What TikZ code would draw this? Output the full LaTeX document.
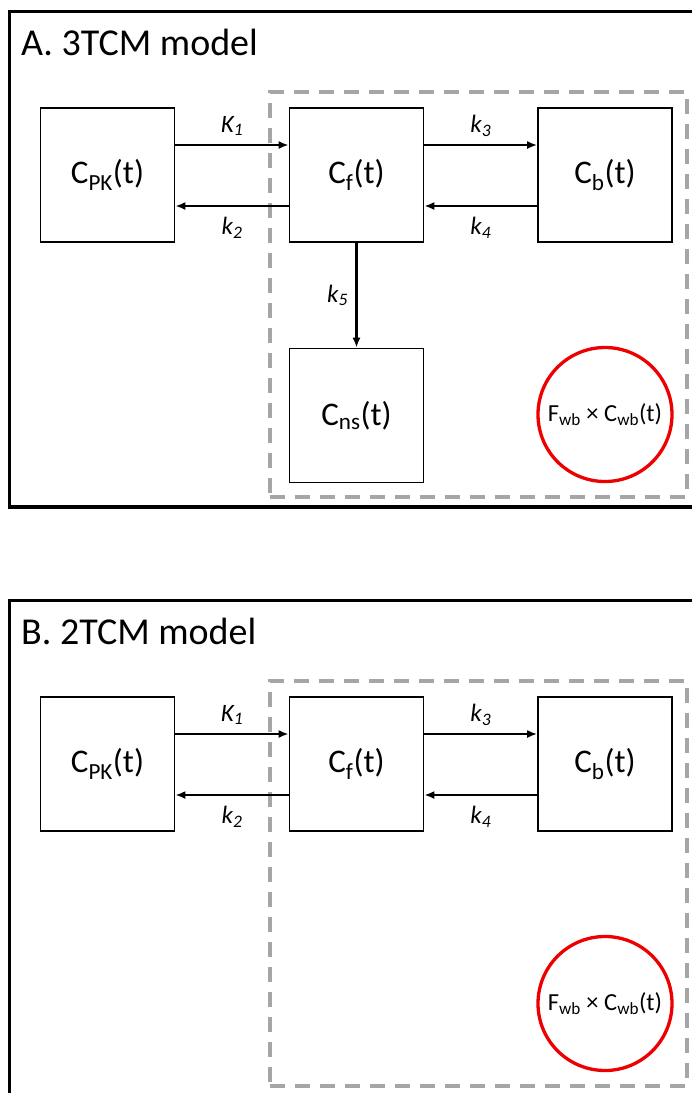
\documentclass[tikz,border=0pt]{standalone}
\usepackage{fontspec}
\setmainfont{Carlito}
\usetikzlibrary{arrows.meta}
\definecolor{dashgray}{HTML}{A6A6A6}
\definecolor{ringred}{HTML}{EE0000}
\tikzset{
  compbox/.style={draw=black, line width=1.7bp, minimum width=134bp, minimum height=134bp, inner sep=0pt, font=\fontsize{33bp}{39bp}\selectfont},
  ratearrow/.style={-{Latex[length=10bp,width=8bp]}, line width=2.1bp},
  ratelabel/.style={font=\fontsize{25bp}{30bp}\selectfont\itshape, inner sep=0pt},
  panelframe/.style={draw=black, line width=3.8bp},
  tissuebox/.style={draw=dashgray, line width=3.2bp, dash pattern=on 15bp off 10bp, minimum width=417bp, minimum height=405bp, inner sep=0pt},
  wbring/.style={circle, draw=ringred, line width=3.3bp, minimum size=134bp, inner sep=0pt, font=\fontsize{24.5bp}{29bp}\selectfont},
  paneltitle/.style={anchor=base west, inner sep=0pt, font=\fontsize{38bp}{44bp}\selectfont}
}
\begin{document}
\begin{tikzpicture}[x=1bp, y=-1bp]
\useasboundingbox (0,0) rectangle (692,1093);
\clip (0,0) rectangle (692,1093);
% ---------- Panel A ----------
\draw[panelframe] (9.5,11.5) rectangle (720,507);
\node[paneltitle] (titleA) at (21,55) {A. 3TCM model};
\node[tissuebox] (tisA) at (478.5,294.5) {};
\node[compbox] (pkA) at (107.5,175) {C\textsubscript{PK}(t)};
\node[compbox] (cfA) at (356.5,175) {C\textsubscript{f}(t)};
\node[compbox] (cbA) at (605,175) {C\textsubscript{b}(t)};
\node[compbox] (cnsA) at (356.5,415.5) {C\textsubscript{ns}(t)};
\node[wbring] (wbA) at (605,414.5) {F\textsubscript{wb} × C\textsubscript{wb}(t)};
\draw[ratearrow] ([yshift=30bp]pkA.east) -- node[ratelabel, yshift=19bp] (k1A) {K\textsubscript{1}} ([yshift=30bp]cfA.west);
\draw[ratearrow] ([yshift=-31bp]cfA.west) -- node[ratelabel, yshift=-22bp] (k2A) {k\textsubscript{2}} ([yshift=-31bp]pkA.east);
\draw[ratearrow] ([yshift=30bp]cfA.east) -- node[ratelabel, yshift=19bp] (k3A) {k\textsubscript{3}} ([yshift=30bp]cbA.west);
\draw[ratearrow] ([yshift=-31bp]cbA.west) -- node[ratelabel, yshift=-22bp] (k4A) {k\textsubscript{4}} ([yshift=-31bp]cfA.east);
\draw[ratearrow] (cfA.south) -- node[ratelabel, xshift=-19bp] (k5A) {k\textsubscript{5}} (cnsA.north);
% ---------- Panel B ----------
\begin{scope}[shift={(0,589)}]
\draw[panelframe] (9.5,11.5) rectangle (720,560);
\node[paneltitle] (titleB) at (21,55) {B. 2TCM model};
\node[tissuebox] (tisB) at (478.5,294.5) {};
\node[compbox] (pkB) at (107.5,175) {C\textsubscript{PK}(t)};
\node[compbox] (cfB) at (356.5,175) {C\textsubscript{f}(t)};
\node[compbox] (cbB) at (605,175) {C\textsubscript{b}(t)};
\node[wbring] (wbB) at (605,414.5) {F\textsubscript{wb} × C\textsubscript{wb}(t)};
\draw[ratearrow] ([yshift=30bp]pkB.east) -- node[ratelabel, yshift=19bp] (k1B) {K\textsubscript{1}} ([yshift=30bp]cfB.west);
\draw[ratearrow] ([yshift=-31bp]cfB.west) -- node[ratelabel, yshift=-22bp] (k2B) {k\textsubscript{2}} ([yshift=-31bp]pkB.east);
\draw[ratearrow] ([yshift=30bp]cfB.east) -- node[ratelabel, yshift=19bp] (k3B) {k\textsubscript{3}} ([yshift=30bp]cbB.west);
\draw[ratearrow] ([yshift=-31bp]cbB.west) -- node[ratelabel, yshift=-22bp] (k4B) {k\textsubscript{4}} ([yshift=-31bp]cfB.east);
\end{scope}
\end{tikzpicture}
\end{document}
